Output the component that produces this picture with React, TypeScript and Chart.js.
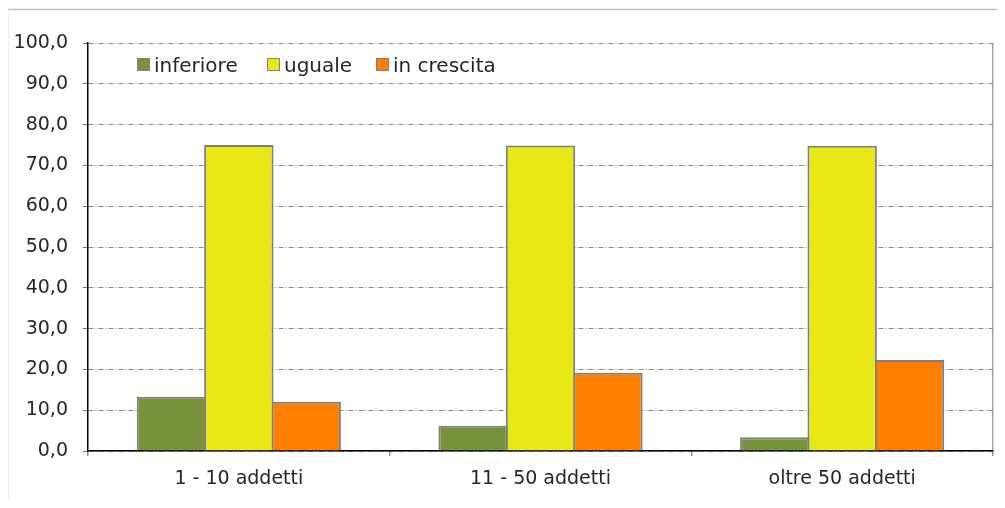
import React, { useEffect, useRef } from "react";
import { Chart, registerables } from "chart.js";

Chart.register(...registerables);

const categories = ["1 - 10 addetti", "11 - 50 addetti", "oltre 50 addetti"];
const seriesNames = ["inferiore", "uguale", "in crescita"];
const inferiore = [13.3, 6.2, 3.4];
const uguale = [75.0, 74.9, 74.8];
const inCrescita = [12.1, 19.2, 22.3];
const yTicks = [0, 10, 20, 30, 40, 50, 60, 70, 80, 90, 100];

const colors = ["#77933C", "#E8E817", "#FF8000"];
const FONT = "'DejaVu Sans', sans-serif";

const framePlugin = {
  id: "frame",
  beforeDraw(chart: any) {
    const ctx = chart.ctx;
    ctx.save();
    ctx.fillStyle = "#ffffff";
    ctx.fillRect(0, 0, chart.width, chart.height);
    ctx.strokeStyle = "#c0c0c0";
    ctx.lineWidth = 1.5;
    ctx.beginPath();
    ctx.moveTo(7.5, chart.height + 5);
    ctx.lineTo(7.5, 9.5);
    ctx.lineTo(chart.width + 5, 9.5);
    ctx.stroke();
    ctx.restore();
  },
};

const legendPlugin = {
  id: "innerLegend",
  afterDraw(chart: any) {
    const ctx = chart.ctx;
    const area = chart.chartArea;
    const boxX = [area.left + 49, area.left + 179, area.left + 288];
    const boxY = area.top + 15;
    ctx.save();
    ctx.font = `20px ${FONT}`;
    ctx.textBaseline = "alphabetic";
    ctx.textAlign = "left";
    seriesNames.forEach((name, i) => {
      ctx.fillStyle = colors[i];
      ctx.fillRect(boxX[i], boxY, 13, 13);
      ctx.strokeStyle = "#808080";
      ctx.lineWidth = 1;
      ctx.strokeRect(boxX[i] + 0.5, boxY + 0.5, 12, 12);
      ctx.fillStyle = "#262626";
      ctx.fillText(name, boxX[i] + 17, boxY + 14);
    });
    ctx.restore();
  },
};

export default function App() {
  const ref = useRef<HTMLCanvasElement | null>(null);

  useEffect(() => {
    if (!ref.current) return;
    const values = [inferiore, uguale, inCrescita];
    const chart = new Chart(ref.current, {
      type: "bar",
      data: {
        labels: categories,
        datasets: seriesNames.map((name, i) => ({
          label: name,
          data: values[i],
          backgroundColor: colors[i],
          borderColor: "#7f7f7f",
          borderWidth: 2,
          borderSkipped: "bottom",
          inflateAmount: 0,
          categoryPercentage: 0.67,
          barPercentage: 1.03,
        })),
      },
      options: {
        responsive: false,
        animation: false,
        layout: { padding: { top: 43, right: 12, left: 0, bottom: 0 } },
        plugins: {
          legend: { display: false },
          title: { display: false },
          tooltip: { enabled: false },
        },
        scales: {
          x: {
            offset: true,
            grid: {
              offset: true,
              drawOnChartArea: true,
              color: (ctx: any) => (ctx.tick ? "rgba(0,0,0,0)" : "#a8a8a8"),
              tickColor: "#909090",
              tickLength: 5,
              lineWidth: 1.5,
            },
            border: { display: true, color: "#000000", width: 1.5 },
            ticks: {
              color: "#262626",
              font: { family: FONT, size: 19 },
              padding: 12,
              maxRotation: 0,
            },
            afterFit: (scale: any) => {
              scale.height = 57;
            },
          },
          y: {
            min: 0,
            max: 100,
            afterBuildTicks: (scale: any) => {
              scale.ticks = yTicks.map((v) => ({ value: v }));
            },
            grid: {
              color: "#8a8a8a",
              lineWidth: 1,
              tickColor: "#707070",
              tickLength: 5,
            },
            border: { display: true, color: "#000000", width: 1.5, dash: [5, 2, 1, 2] },
            ticks: {
              color: "#262626",
              font: { family: FONT, size: 19 },
              padding: 15,
              callback: (v: any) => Number(v).toFixed(1).replace(".", ","),
            },
            afterFit: (scale: any) => {
              scale.width = 88;
            },
          },
        },
      },
      plugins: [framePlugin, legendPlugin],
    });
    return () => chart.destroy();
  }, []);

  return (
    <div style={{ margin: "-8px", width: 1005, height: 508 }}>
      <canvas ref={ref} width={1005} height={508} style={{ display: "block" }} />
    </div>
  );
}
